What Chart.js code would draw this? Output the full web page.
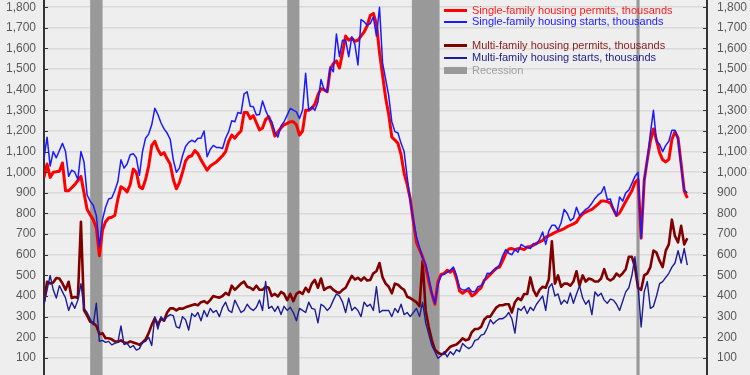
<!DOCTYPE html>
<html>
<head>
<meta charset="utf-8">
<title>Housing permits and starts</title>
<script src="https://cdn.jsdelivr.net/npm/chart.js@4.4.0/dist/chart.umd.min.js"></script>
<style>
  body { margin: 0; background: #eeeeee; font-family: "Liberation Sans", Arial, sans-serif; }
  #wrap { position: relative; width: 750px; height: 375px; }
  .legend { position: absolute; left: 444px; top: 0; font-size: 11px; }
  .item { position: absolute; left: 0; height: 12px; line-height: 12px; white-space: nowrap; }
  .swatch { position: absolute; left: 0; width: 23px; }
  .label { position: absolute; left: 28px; top: 0; }
</style>
</head>
<body>
<div id="wrap">
  <canvas id="housingChart" width="750" height="375"></canvas>
  <div class="legend">
    <div class="item" style="top:4px"><span class="swatch" style="top:5px;height:3px;background:#ff0000"></span><span class="label" style="color:#ff1a1a">Single-family housing permits, thousands</span></div>
    <div class="item" style="top:15px"><span class="swatch" style="top:6px;height:1.5px;background:#1a1aff"></span><span class="label" style="color:#2020ff">Single-family housing starts, thousands</span></div>
    <div class="item" style="top:39px"><span class="swatch" style="top:5px;height:3px;background:#800000"></span><span class="label" style="color:#8b1a1a">Multi-family housing permits, thousands</span></div>
    <div class="item" style="top:51px"><span class="swatch" style="top:6px;height:1.5px;background:#1c1c94"></span><span class="label" style="color:#22228a">Multi-family housing starts, thousands</span></div>
    <div class="item" style="top:64px"><span class="swatch" style="top:3px;height:7px;background:#999999"></span><span class="label" style="color:#a0a0a0">Recession</span></div>
  </div>
</div>

<script>
  // bi-monthly readings, Jan 1988 onwards, thousands (SAAR)
  var startYear = 1988;

  var sfPermits = [
    975, 1040, 975, 1000, 1002, 1005, 1045, 910, 910, 925,
    940, 960, 980, 900, 820, 794, 770, 730, 595, 720,
    760, 778, 782, 790, 870, 930, 920, 905, 940, 1015,
    1000, 930, 920, 965, 1030, 1130, 1150, 1110, 1085, 1095,
    1065, 1040, 965, 920, 950, 1000, 1055, 1075, 1080, 1105,
    1090, 1060, 1035, 1010, 1030, 1040, 1050, 1065, 1080, 1100,
    1150, 1180, 1165, 1185, 1200, 1290, 1290, 1260, 1275, 1240,
    1205, 1215, 1255, 1270, 1230, 1175, 1195, 1215, 1230, 1237,
    1245, 1245, 1230, 1180, 1200, 1300, 1300, 1310, 1330, 1375,
    1405, 1400, 1390, 1500, 1527, 1540, 1505, 1580, 1660, 1640,
    1650, 1635, 1640, 1660, 1680, 1710, 1760, 1770, 1720, 1580,
    1470, 1360, 1280, 1170, 1156, 1140, 1085, 995, 940, 870,
    760, 660, 625, 590, 540, 470, 410, 360, 470, 505,
    510, 525, 515, 530, 485, 425, 413, 425, 425, 400,
    410, 428, 440, 475, 490, 505, 520, 535, 540, 570,
    605, 628, 630, 625, 630, 630, 625, 638, 640, 646,
    655, 662, 670, 685, 692, 700, 708, 715, 720, 727,
    736, 743, 750, 758, 782, 798, 806, 814, 820, 832,
    845, 860, 860, 858, 850, 820, 790, 803, 830, 858,
    885, 910, 950, 965, 680, 960, 1060, 1150, 1210, 1155,
    1095, 1060, 1050, 1062, 1160, 1196, 1165, 1040, 910, 875
  ];

  var sfStarts = [
    1070, 1170, 1030, 1100, 1070, 1105, 1140, 1100, 980, 1010,
    1000, 965, 1100, 1050, 890, 860, 840, 790, 640, 770,
    830, 870, 875, 910, 955, 1060, 1020, 1040, 1085, 1090,
    1070, 985, 1100, 1165, 1185, 1230, 1310, 1280, 1240, 1210,
    1190, 1160, 1060, 1000, 1020, 1080, 1125, 1145, 1155, 1147,
    1165, 1165, 1200, 1075, 1110, 1130, 1120, 1120, 1115, 1165,
    1197, 1250, 1245, 1290, 1285, 1380, 1390, 1320, 1317, 1277,
    1280, 1345, 1300, 1265, 1245, 1195, 1170, 1225, 1245, 1277,
    1309, 1301, 1293, 1260, 1300, 1480, 1300, 1317, 1300, 1340,
    1450, 1400, 1390, 1511, 1487, 1670, 1560, 1640, 1640, 1560,
    1657, 1620, 1520, 1740, 1730, 1713, 1721, 1753, 1660, 1800,
    1530, 1450, 1370, 1245, 1197, 1190, 1140, 1100, 975, 860,
    768, 690, 635, 585, 555, 490, 413, 365, 455, 500,
    505, 515, 525, 540, 500, 440, 429, 430, 440, 420,
    420, 445, 450, 470, 510, 509, 525, 535, 552, 595,
    625, 607, 600, 625, 612, 650, 640, 635, 630, 655,
    650, 675, 710, 650, 715, 743, 743, 720, 755, 820,
    800, 765, 776, 830, 790, 805, 820, 830, 850, 873,
    890, 900, 930, 868, 870, 820, 790, 880, 860, 900,
    913, 946, 980, 1000, 680, 960, 1060, 1188, 1300, 1150,
    1135, 1100, 1130, 1150, 1204, 1204, 1160, 1030, 913, 900
  ];

  var mfPermits = [
    372, 469, 461, 465, 487, 485, 461, 430, 469, 390,
    395, 390, 760, 330, 305, 275, 270, 255, 215, 220,
    195, 195, 190, 180, 178, 185, 175, 172, 180, 175,
    170, 163, 175, 190, 220, 260, 292, 260, 290, 280,
    320, 340, 340, 330, 340, 338, 345, 350, 355, 360,
    355, 370, 375, 365, 380, 400, 395, 392, 400, 415,
    405, 450, 430, 445, 460, 470, 445, 440, 430, 450,
    430, 430, 445, 440, 400, 410, 398, 420, 410, 380,
    410, 375, 410, 420, 410, 440, 420, 460, 478, 440,
    485, 430, 440, 445, 430, 420, 415, 430, 440, 470,
    498, 480, 488, 475, 490, 475, 478, 510, 520, 560,
    490, 460, 445, 413, 460, 455, 440, 430, 396, 390,
    380, 370, 350, 570, 330, 250, 186, 140, 125, 118,
    120, 138, 154, 160, 165, 178, 195, 185, 190, 225,
    240, 240, 250, 285, 300, 300, 324, 345, 355, 355,
    360, 360, 320, 370, 390, 380, 410, 410, 490, 430,
    400, 430, 445, 440, 480, 665, 460, 500, 445, 460,
    460, 450, 470, 520, 450, 500, 470, 485, 480, 470,
    470, 485, 530, 485, 475, 485, 509, 495, 510, 530,
    590, 590, 540, 440, 430, 500, 510, 540, 620, 610,
    570, 540, 620, 650, 770, 690, 660, 740, 650, 680
  ];

  var mfStarts = [
    360, 430, 500, 430, 390, 450, 420, 390, 330, 370,
    340, 380, 460, 340, 320, 290, 260, 365, 180, 185,
    175, 180, 163, 170, 175, 255, 165, 170, 150, 160,
    138, 145, 175, 180, 200, 160, 300, 240, 300, 280,
    300, 310, 305, 250, 245, 300, 285, 235, 315, 300,
    320, 280, 330, 300, 340, 320, 330, 300, 345, 370,
    330, 320, 380, 350, 320, 330, 360, 340, 330, 345,
    380, 330, 470, 340, 350, 325, 350, 310, 350, 330,
    345, 320, 280, 340, 330, 320, 370, 340, 335, 270,
    360, 350, 330, 345, 380, 410, 400, 370, 320, 390,
    330, 345, 330, 300, 370, 350, 360, 330, 445, 320,
    330, 330, 330, 300, 340, 320, 360, 310, 320, 300,
    320, 340, 300, 370, 270, 215, 160, 130, 98, 110,
    130, 105, 130, 115, 140, 130, 170, 155, 145, 155,
    185, 190, 210, 215, 245, 285, 265, 280, 290, 290,
    300, 320, 290, 220, 340, 330, 350, 315, 345, 330,
    360, 380, 400, 330, 440, 460, 400, 410, 360, 380,
    365, 415, 365, 410, 450, 390, 360, 380, 310, 420,
    400, 413, 380, 365, 385, 380, 360, 330, 375, 420,
    440, 500, 590, 450, 250, 420, 470, 340, 350, 400,
    460, 470, 490, 510, 540, 560, 620, 560, 630, 550
  ];

  var tickValues = [100, 200, 300, 400, 500, 600, 700, 800, 900, 1000,
                    1100, 1200, 1300, 1400, 1500, 1600, 1700, 1800];

  // NBER recessions, peak month to trough month
  var recessionStart = [1990.5, 2001.17, 2007.92, 2020.08];
  var recessionEnd = [1991.17, 2001.83, 2009.42, 2020.25];

  var dates = sfPermits.map(function (v, i) { return startYear + i / 6; });

  var recessionBars = {
    id: 'recessionBars',
    beforeDatasetsDraw: function (chart) {
      var ctx = chart.ctx, xs = chart.scales.x, area = chart.chartArea;
      ctx.save();
      ctx.fillStyle = '#999999';
      for (var i = 0; i < recessionStart.length; i++) {
        var x0 = xs.getPixelForValue(recessionStart[i]);
        var x1 = xs.getPixelForValue(recessionEnd[i]);
        ctx.fillRect(x0, area.top, x1 - x0, area.bottom - area.top);
      }
      ctx.restore();
    }
  };

  var innerTicks = {
    id: 'innerTicks',
    afterDatasetsDraw: function (chart) {
      var ctx = chart.ctx, ys = chart.scales.y, area = chart.chartArea;
      ctx.save();
      ctx.strokeStyle = '#333333';
      ctx.lineWidth = 1;
      tickValues.forEach(function (v) {
        var py = Math.round(ys.getPixelForValue(v)) + 0.5;
        ctx.beginPath();
        ctx.moveTo(area.left, py); ctx.lineTo(area.left + 4, py);
        ctx.moveTo(area.right - 4, py); ctx.lineTo(area.right, py);
        ctx.stroke();
      });
      ctx.restore();
    }
  };

  var tickFont = { size: 12, family: '"Liberation Sans", Arial, sans-serif' };
  var fmt = function (v) { return Number(v).toLocaleString('en-US'); };
  var setTicks = function (s) { s.ticks = tickValues.map(function (v) { return { value: v }; }); };

  var ctx = document.getElementById('housingChart').getContext('2d');
  var chart = new Chart(ctx, {
    type: 'line',
    data: {
      labels: dates,
      datasets: [
        { label: 'Single-family housing permits, thousands', data: sfPermits, borderColor: '#ff0000', borderWidth: 3, order: 2 },
        { label: 'Single-family housing starts, thousands', data: sfStarts, borderColor: '#1a1aff', borderWidth: 1.5, order: 1 },
        { label: 'Multi-family housing permits, thousands', data: mfPermits, borderColor: '#800000', borderWidth: 2.6, order: 4 },
        { label: 'Multi-family housing starts, thousands', data: mfStarts, borderColor: '#1c1c94', borderWidth: 1.4, order: 3 }
      ]
    },
    options: {
      responsive: false,
      devicePixelRatio: 1,
      animation: false,
      layout: { padding: 0, autoPadding: false },
      elements: {
        point: { radius: 0 },
        line: { tension: 0, fill: false, borderJoinStyle: 'round' }
      },
      plugins: { legend: { display: false }, tooltip: { enabled: false } },
      scales: {
        x: { type: 'linear', min: 1988, max: 2023.9, display: false },
        y: {
          position: 'left', min: 17, max: 1835,
          afterBuildTicks: setTicks,
          afterFit: function (s) { s.width = 44; s.paddingTop = 0; s.paddingBottom = 0; },
          grid: { color: '#d9d9d9', lineWidth: 1.5, drawTicks: false },
          border: { color: '#333333', width: 2 },
          ticks: { color: '#595959', font: tickFont, padding: 8, callback: fmt }
        },
        y2: {
          position: 'right', min: 17, max: 1835,
          afterBuildTicks: setTicks,
          afterFit: function (s) { s.width = 43; s.paddingTop = 0; s.paddingBottom = 0; },
          grid: { drawOnChartArea: false, drawTicks: false },
          border: { color: '#333333', width: 2 },
          ticks: { color: '#595959', font: tickFont, padding: 10, callback: fmt }
        }
      }
    },
    plugins: [recessionBars, innerTicks]
  });
</script>
</body>
</html>
